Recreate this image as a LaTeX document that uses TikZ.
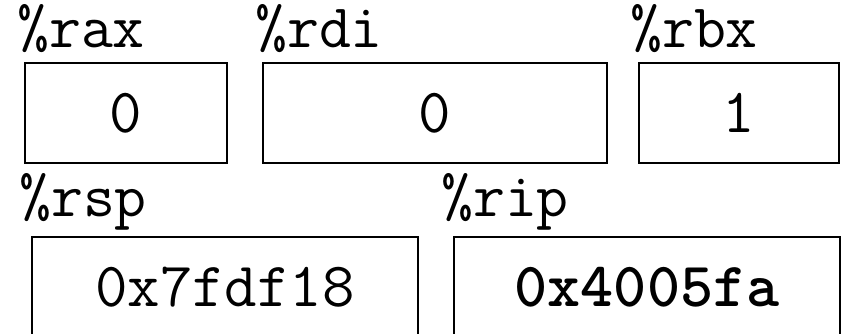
\documentclass[tikz,border=0pt]{standalone}
\usetikzlibrary{positioning}

\begin{document}
\begin{tikzpicture}[x=1pt, y=1pt,
    reg/.style={draw=black, line width=2pt, minimum height=100pt,
                minimum width=#1, inner sep=0pt,
                font=\fontsize{63}{70}\selectfont\ttfamily},
    regname/.style={anchor=base west, inner sep=0pt,
                font=\fontsize{62}{70}\selectfont\ttfamily}]

    \clip (0,0) rectangle (844,334);

    % first row of registers
    \node[reg=202pt] (rax) at (126,221) {0};
    \node[reg=344pt] (rdi) at (435,221) {0};
    \node[reg=200pt] (rbx) at (739,221) {1};

    \node[regname] (raxname) at ([shift={(-7pt,14pt)}]rax.north west) {\%rax};
    \node[regname] (rdiname) at ([shift={(-7pt,14pt)}]rdi.north west) {\%rdi};
    \node[regname] (rbxname) at ([shift={(-8pt,14pt)}]rbx.north west) {\%rbx};

    % second row, cut off at the bottom
    \node[reg=386pt] (rsp) at (225,47) {0x7fdf18};
    \node[reg=386pt] (rip) at (647,47) {\bfseries 0x4005fa};

    \node[regname] (rspname) at ([shift={(-12pt,19pt)}]rsp.north west) {\%rsp};
    \node[regname] (ripname) at ([shift={(-12pt,19pt)}]rip.north west) {\%rip};
\end{tikzpicture}
\end{document}
